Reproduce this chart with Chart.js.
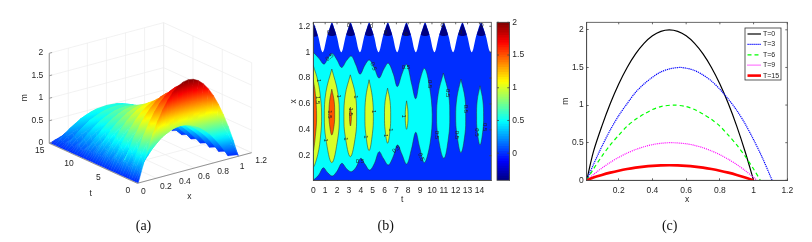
<!DOCTYPE html>
<html><head><meta charset="utf-8">
<script src="https://cdn.jsdelivr.net/npm/chart.js@4/dist/chart.umd.min.js"></script>
<style>
html,body{margin:0;padding:0;background:#fff;width:812px;height:242px;overflow:hidden}
canvas{position:absolute;top:0;filter:blur(.4px)}
</style></head><body>
<canvas id="pa" width="287" height="242" style="left:0;width:287px;height:242px"></canvas>
<canvas id="pb" width="265" height="242" style="left:280px;width:265px;height:242px"></canvas>
<canvas id="pbar" width="60" height="242" style="left:480px;width:60px;height:242px"></canvas>
<canvas id="pc" width="260" height="242" style="left:552px;width:260px;height:242px"></canvas>
<script>
// ---------- panel (a): surface m(t,x) ----------
const tRows=[0,.39,.79,1.18,1.57,1.96,2.36,2.75,3.14,3.53,3.93,4.32,4.71,5.11,5.5,5.89,6.28,6.68,7.07,7.46,7.85,8.25,8.64,9.03,9.42,9.82,10.21,10.6,10.99,11.39,11.78,12.17,12.57,12.96,13.35,13.74,14.14,14.53,14.92,15];
const xEnd=[1.06,1.08,1,1.05,1.09,1.05,1,1.05,1.09,1.05,1,1.05,1.09,1.05,1,1.05,1.09,1.05,1,1.05,1.09,1.05,1,1.05,1.09,1.05,1,1.05,1.09,1.05,1,1.05,1.09,1.05,1,1.05,1.09,1.05,1,1];
const uCols=[0,.05,.1,.15,.2,.25,.3,.35,.4,.45,.5,.55,.6,.65,.7,.75,.8,.85,.9,.95,1];
const mGrid=[
[0,.38,.72,1.02,1.28,1.5,1.68,1.82,1.92,1.98,2,1.98,1.92,1.82,1.68,1.5,1.28,1.02,.72,.38,0],
[0,.28,.53,.75,.94,1.1,1.23,1.34,1.41,1.46,1.47,1.46,1.41,1.34,1.23,1.1,.94,.75,.53,.28,0],
[0,.18,.34,.48,.61,.71,.8,.86,.91,.94,.95,.94,.91,.86,.8,.71,.61,.48,.34,.18,0],
[0,.26,.49,.69,.87,1.02,1.14,1.24,1.31,1.35,1.36,1.35,1.31,1.24,1.14,1.02,.87,.69,.49,.26,0],
[0,.34,.64,.91,1.14,1.34,1.5,1.62,1.71,1.76,1.78,1.76,1.71,1.62,1.5,1.34,1.14,.91,.64,.34,0],
[0,.25,.48,.68,.85,1,1.12,1.21,1.28,1.32,1.33,1.32,1.28,1.21,1.12,1,.85,.68,.48,.25,0],
[0,.17,.32,.45,.56,.66,.74,.8,.84,.87,.88,.87,.84,.8,.74,.66,.56,.45,.32,.17,0],
[0,.23,.44,.62,.77,.91,1.02,1.1,1.16,1.2,1.21,1.2,1.16,1.1,1.02,.91,.77,.62,.44,.23,0],
[0,.29,.56,.79,.99,1.16,1.3,1.41,1.49,1.53,1.55,1.53,1.49,1.41,1.3,1.16,.99,.79,.56,.29,0],
[0,.22,.42,.6,.76,.89,.99,1.07,1.13,1.17,1.18,1.17,1.13,1.07,.99,.89,.76,.6,.42,.22,0],
[0,.16,.3,.42,.52,.62,.69,.75,.79,.81,.82,.81,.79,.75,.69,.62,.52,.42,.3,.16,0],
[0,.2,.39,.55,.68,.8,.9,.97,1.03,1.06,1.07,1.06,1.03,.97,.9,.8,.68,.55,.39,.2,0],
[0,.25,.48,.67,.84,.99,1.11,1.2,1.27,1.31,1.32,1.31,1.27,1.2,1.11,.99,.84,.67,.48,.25,0],
[0,.2,.37,.53,.67,.78,.87,.95,1,1.03,1.04,1.03,1,.95,.87,.78,.67,.53,.37,.2,0],
[0,.14,.27,.39,.49,.57,.64,.69,.73,.75,.76,.75,.73,.69,.64,.57,.49,.39,.27,.14,0],
[0,.18,.34,.48,.61,.71,.8,.86,.91,.94,.95,.94,.91,.86,.8,.71,.61,.48,.34,.18,0],
[0,.22,.41,.58,.73,.86,.96,1.04,1.09,1.13,1.14,1.13,1.09,1.04,.96,.86,.73,.58,.41,.22,0],
[0,.17,.33,.47,.59,.69,.77,.84,.88,.91,.92,.91,.88,.84,.77,.69,.59,.47,.33,.17,0],
[0,.13,.25,.36,.45,.53,.59,.64,.67,.69,.7,.69,.67,.64,.59,.53,.45,.36,.25,.13,0],
[0,.16,.3,.43,.54,.63,.71,.76,.81,.83,.84,.83,.81,.76,.71,.63,.54,.43,.3,.16,0],
[0,.19,.35,.5,.63,.74,.82,.89,.94,.97,.98,.97,.94,.89,.82,.74,.63,.5,.35,.19,0],
[0,.15,.28,.4,.51,.59,.66,.72,.76,.78,.79,.78,.76,.72,.66,.59,.51,.4,.28,.15,0],
[0,.11,.22,.31,.38,.45,.5,.55,.58,.59,.6,.59,.58,.55,.5,.45,.38,.31,.22,.11,0],
[0,.14,.26,.37,.46,.54,.6,.66,.69,.71,.72,.71,.69,.66,.6,.54,.46,.37,.26,.14,0],
[0,.16,.31,.43,.54,.64,.71,.77,.82,.84,.85,.84,.82,.77,.71,.64,.54,.43,.31,.16,0],
[0,.12,.23,.33,.42,.49,.55,.59,.62,.64,.65,.64,.62,.59,.55,.49,.42,.33,.23,.12,0],
[0,.09,.16,.23,.29,.34,.38,.41,.43,.45,.45,.45,.43,.41,.38,.34,.29,.23,.16,.09,0],
[0,.11,.22,.31,.38,.45,.5,.55,.58,.59,.6,.59,.58,.55,.5,.45,.38,.31,.22,.11,0],
[0,.14,.27,.38,.47,.56,.62,.67,.71,.73,.74,.73,.71,.67,.62,.56,.47,.38,.27,.14,0],
[0,.11,.2,.29,.36,.42,.47,.51,.54,.55,.56,.55,.54,.51,.47,.42,.36,.29,.2,.11,0],
[0,.07,.14,.19,.24,.29,.32,.35,.36,.38,.38,.38,.36,.35,.32,.29,.24,.19,.14,.07,0],
[0,.1,.19,.27,.33,.39,.44,.47,.5,.51,.52,.51,.5,.47,.44,.39,.33,.27,.19,.1,0],
[0,.13,.24,.34,.42,.5,.55,.6,.63,.65,.66,.65,.63,.6,.55,.5,.42,.34,.24,.13,0],
[0,.09,.17,.24,.31,.36,.4,.44,.46,.48,.48,.48,.46,.44,.4,.36,.31,.24,.17,.09,0],
[0,.06,.11,.15,.19,.23,.25,.27,.29,.3,.3,.3,.29,.27,.25,.23,.19,.15,.11,.06,0],
[0,.08,.16,.22,.28,.33,.37,.4,.42,.44,.44,.44,.42,.4,.37,.33,.28,.22,.16,.08,0],
[0,.11,.21,.3,.37,.44,.49,.53,.56,.57,.58,.57,.56,.53,.49,.44,.37,.3,.21,.11,0],
[0,.07,.14,.2,.25,.29,.33,.35,.37,.39,.39,.39,.37,.35,.33,.29,.25,.2,.14,.07,0],
[0,.04,.07,.1,.13,.15,.17,.18,.19,.2,.2,.2,.19,.18,.17,.15,.13,.1,.07,.04,0],
[0,.04,.07,.1,.13,.15,.17,.18,.19,.2,.2,.2,.19,.18,.17,.15,.13,.1,.07,.04,0]];
const tTicks3d=[0,5,10,15];
const xTicks3d=[0,.2,.4,.6,.8,1,1.2];
const mTicks3d=[0,.5,1,1.5,2];

// ---------- panel (b): filled contour regions, [t,x] ----------
const blueRegion=[[0,.01],[0,1.23],[.22,1.18],[.45,1.11],[.65,1.025],[.785,1],[.92,1.025],[1.12,1.11],[1.35,1.18],[1.57,1.23],[1.79,1.18],[2.02,1.11],[2.22,1.025],[2.36,1],[2.49,1.025],[2.69,1.11],[2.92,1.18],[3.14,1.23],[3.36,1.18],[3.59,1.11],[3.79,1.025],[3.93,1],[4.06,1.025],[4.26,1.11],[4.49,1.18],[4.71,1.23],[4.93,1.18],[5.16,1.11],[5.36,1.025],[5.5,1],[5.63,1.025],[5.83,1.11],[6.06,1.18],[6.28,1.23],[6.5,1.18],[6.73,1.11],[6.93,1.025],[7.07,1],[7.2,1.025],[7.4,1.11],[7.63,1.18],[7.85,1.23],[8.07,1.18],[8.3,1.11],[8.5,1.025],[8.64,1],[8.77,1.025],[8.97,1.11],[9.2,1.18],[9.42,1.23],[9.64,1.18],[9.87,1.11],[10.07,1.025],[10.21,1],[10.34,1.025],[10.54,1.11],[10.77,1.18],[10.99,1.23],[11.21,1.18],[11.44,1.11],[11.64,1.025],[11.78,1],[11.91,1.025],[12.11,1.11],[12.34,1.18],[12.57,1.23],[12.79,1.18],[13.02,1.11],[13.22,1.025],[13.35,1],[13.48,1.025],[13.68,1.11],[13.91,1.18],[14.14,1.23],[14.36,1.18],[14.59,1.11],[14.79,1.025],[14.92,1],[15,1.01],[15,.01]];
const navyLobes=[
[[0,1.23],[.2,1.18],[.36,1.128],[.2,1.122],[0,1.12]],
[[1.57,1.23],[1.77,1.18],[1.93,1.135],[1.77,1.128],[1.57,1.125],[1.37,1.128],[1.21,1.135],[1.37,1.18]],
[[3.14,1.23],[3.34,1.18],[3.5,1.135],[3.34,1.128],[3.14,1.125],[2.94,1.128],[2.78,1.135],[2.94,1.18]],
[[4.71,1.23],[4.91,1.18],[5.07,1.135],[4.91,1.128],[4.71,1.125],[4.51,1.128],[4.35,1.135],[4.51,1.18]],
[[6.28,1.23],[6.48,1.18],[6.64,1.135],[6.48,1.128],[6.28,1.125],[6.08,1.128],[5.92,1.135],[6.08,1.18]],
[[7.85,1.23],[8.05,1.18],[8.21,1.135],[8.05,1.128],[7.85,1.125],[7.65,1.128],[7.49,1.135],[7.65,1.18]],
[[9.42,1.23],[9.62,1.18],[9.78,1.135],[9.62,1.128],[9.42,1.125],[9.22,1.128],[9.06,1.135],[9.22,1.18]],
[[10.99,1.23],[11.19,1.18],[11.35,1.135],[11.19,1.128],[10.99,1.125],[10.79,1.128],[10.63,1.135],[10.79,1.18]],
[[12.57,1.23],[12.77,1.18],[12.93,1.135],[12.77,1.128],[12.57,1.125],[12.37,1.128],[12.21,1.135],[12.37,1.18]],
[[14.14,1.23],[14.34,1.18],[14.5,1.135],[14.34,1.128],[14.14,1.125],[13.94,1.128],[13.78,1.135],[13.94,1.18]]];
const cyanRegion=[[0,1],[.45,.955],[.9,.908],[1.25,.955],[1.6,.99],[2,.94],[2.39,.882],[2.8,.935],[3.2,.97],[3.6,.9],[3.94,.83],[4.35,.9],[4.72,.94],[5.15,.875],[5.54,.8],[5.95,.87],[6.32,.915],[6.75,.83],[7.08,.734],[7.5,.84],[7.87,.905],[8.3,.75],[8.63,.64],[8.97,.78],[9.38,.875],[9.8,.73],[10.02,.52],[9.85,.3],[9.36,.146],[8.95,.27],[8.63,.381],[8.27,.25],[7.87,.135],[7.45,.215],[7.1,.283],[6.72,.19],[6.32,.128],[5.9,.18],[5.54,.231],[5.15,.14],[4.75,.089],[4.35,.135],[4.0,.18],[3.6,.11],[3.2,.076],[2.8,.1],[2.4,.141],[2,.08],[1.6,.043],[1.2,.07],[.84,.107],[.45,.05],[0,.012]];
const cyanLobes=[
[[10.96,.839],[11.4,.675],[11.5,.5],[11.4,.345],[11,.18],[10.52,.345],[10.39,.5],[10.52,.675]],
[[12.44,.792],[12.78,.647],[12.84,.5],[12.78,.367],[12.44,.223],[12.1,.367],[12,.5],[12.1,.647]],
[[14.05,.74],[14.29,.625],[14.35,.5],[14.29,.395],[14.05,.283],[13.81,.395],[13.76,.5],[13.81,.625]]];
const yellowLobes=[
[[0,.897],[.38,.78],[.62,.64],[.7,.5],[.62,.36],[.38,.21],[0,.12]],
[[1.56,.87],[2.06,.69],[2.19,.5],[2.06,.33],[1.56,.146],[1.06,.33],[.93,.5],[1.06,.69]],
[[3.12,.825],[3.55,.67],[3.65,.5],[3.55,.35],[3.12,.192],[2.69,.35],[2.58,.5],[2.69,.67]],
[[4.7,.787],[4.98,.65],[5.06,.5],[4.98,.37],[4.7,.239],[4.42,.37],[4.35,.5],[4.42,.65]],
[[6.26,.722],[6.47,.62],[6.52,.5],[6.47,.4],[6.26,.296],[6.05,.4],[6,.5],[6.05,.62]],
[[7.86,.624],[7.96,.56],[7.98,.5],[7.96,.45],[7.86,.404],[7.77,.45],[7.75,.5],[7.77,.56]]];
const orangeLobes=[
[[0,.786],[.17,.68],[.28,.5],[.17,.35],[0,.244]],
[[1.56,.714],[1.76,.62],[1.8,.52],[1.76,.44],[1.56,.36],[1.37,.44],[1.32,.52],[1.37,.62]],
[[3.13,.575],[3.21,.5],[3.13,.43],[3.05,.5]]];
const contourLabels=[[1.38,.96,'0.5',-40],[5.06,.89,'0.5',70],[7.8,.88,'0.5',0],[9.8,.753,'0.5',90],[11.32,.683,'0.5',90],[12.8,.562,'0.5',90],[14.4,.42,'0.5',90],[13.76,.38,'0.5',90],[12.08,.36,'0.5',90],[10.4,.36,'0.5',90],[9.07,.19,'0.5',70],[7,.25,'0.5',-40],[3.93,.153,'0.5',0],[1.4,.52,'1.5',90],[3.12,.54,'1.5',90],[.34,.63,'1.5',90],[.45,.78,'1',90],[2.1,.66,'1',90],[3.54,.655,'1',90],[5.06,.54,'1',90],[7.64,.505,'1',90],[6.5,.4,'1',90],[6.1,.355,'1',90],[4.4,.345,'1',90],[2.72,.33,'1',90],[1.04,.32,'1',90],[1.3,1.156,'0',0],[2.95,1.205,'0',0],[4.9,1.2,'0',0],[6.07,1.156,'0',0],[7.8,1.14,'0',0],[10.87,1.21,'0',0],[12.4,1.156,'0',0],[14.2,1.21,'0',0]];
const tTicksB=[0,1,2,3,4,5,6,7,8,9,10,11,12,13,14];
const xTicksB=[.2,.4,.6,.8,1,1.2];
const barTicks=[0,.5,1,1.5,2];

// ---------- panel (c): profiles m(x) ----------
const xT0=[.01,.05,.1,.15,.2,.25,.3,.35,.4,.45,.5,.55,.6,.65,.7,.75,.8,.85,.9,.95,1];
const mT0=[0,.38,.72,1.02,1.28,1.5,1.68,1.82,1.92,1.98,2,1.98,1.92,1.82,1.68,1.5,1.28,1.02,.72,.38,0];
const xT3=[.01,.05,.1,.15,.2,.25,.3,.35,.4,.45,.5,.56,.6,.65,.7,.75,.8,.85,.9,.95,1,1.05,1.11];
const mT3=[0,.21,.45,.67,.86,1.02,1.17,1.28,1.37,1.44,1.48,1.5,1.49,1.46,1.4,1.32,1.21,1.08,.93,.75,.54,.31,0];
const xT6=[.01,.05,.1,.15,.2,.25,.3,.35,.4,.45,.525,.6,.65,.7,.75,.8,.85,.9,.95,1,1.04];
const mT6=[0,.15,.32,.47,.6,.72,.81,.88,.94,.98,1,.98,.94,.88,.81,.72,.6,.47,.32,.15,0];
const xT9=[.01,.05,.1,.15,.2,.25,.3,.35,.4,.45,.515,.6,.65,.7,.75,.8,.85,.9,.95,1,1.02];
const mT9=[0,.076,.162,.239,.305,.362,.409,.446,.474,.492,.5,.486,.464,.433,.391,.341,.28,.21,.129,.039,0];
const xT15=[.01,.05,.1,.15,.2,.25,.3,.35,.4,.45,.5,.55,.6,.65,.7,.75,.8,.85,.9,.95,1];
const mT15=[0,.038,.072,.102,.128,.15,.168,.182,.192,.198,.2,.198,.192,.182,.168,.15,.128,.102,.072,.038,0];
const xTicksC=[.2,.4,.6,.8,1,1.2];
const mTicksC=[0,.5,1,1.5,2];

// ---------- helpers ----------
const SANS='"Liberation Sans",Arial,sans-serif', SERIF='"Liberation Serif",serif';
const TXT='#262626', AX='#444';
const clamp=v=>Math.max(0,Math.min(1,v));
function jet(v){const f=(v+.41)/2.41;
  return 'rgb('+Math.round(255*clamp(Math.min(4*f-1.5,4.5-4*f)))+','+Math.round(255*clamp(Math.min(4*f-.5,3.5-4*f)))+','+Math.round(255*clamp(Math.min(4*f+.5,2.5-4*f)))+')';}
function project(t,x,m){return {x:137.3+x*95.3-t*5.87,y:183.3-x*25.5-t*2.67-m*45};}
const caption=s=>({display:true,text:s,position:'bottom',color:'#111',font:{family:SERIF,size:14,weight:'normal'},padding:{top:0,bottom:7.6}});
const fixH=h=>s=>{s.height=h}, fixW=w=>s=>{s.width=w};
const setTicks=a=>s=>{s.ticks=a.map(v=>({value:v}))};
function axisOpt(pos,min,max,ticks,title,size,tp){
  const vert=pos==='left'||pos==='right';
  return {type:'linear',position:pos,min,max,afterBuildTicks:setTicks(ticks),
    afterFit:vert?fixW(size):fixH(size),
    border:{display:true,color:AX,width:.8},
    grid:{drawOnChartArea:false,tickLength:-2,tickColor:AX,lineWidth:.8},
    ticks:{autoSkip:false,maxRotation:0,padding:vert?5:7,color:TXT,font:{family:SANS,size:8.5},callback:v=>String(v)},
    title:title?{display:true,text:title,color:TXT,font:{family:SANS,size:8.5},padding:vert?{top:tp,bottom:0}:{top:0,bottom:tp}}:{display:false}};
}
const framePlugin={id:'frame',afterDatasetsDraw(c){const a=c.chartArea,g=c.ctx;g.save();g.strokeStyle=AX;g.lineWidth=.8;
  g.strokeRect(a.left,a.top,a.right-a.left,a.bottom-a.top);g.beginPath();
  if(c.scales.x&&c.scales.x.options.display!==false)c.scales.x.ticks.forEach(k=>{const p=c.scales.x.getPixelForValue(k.value);g.moveTo(p,a.top);g.lineTo(p,a.top+2);});
  if(c.scales.y)c.scales.y.ticks.forEach(k=>{const p=c.scales.y.getPixelForValue(k.value);g.moveTo(a.right,p);g.lineTo(a.right-2,p);if(c.canvas.id==='pbar'){g.moveTo(a.left,p);g.lineTo(a.left+2,p);}});
  g.stroke();g.restore();}};
const base=(extra)=>Object.assign({responsive:false,animation:false,events:[],devicePixelRatio:1},extra);

// ---------- panel (a) ----------
function quadPaint(c4){return ctx=>{
  const sx=ctx.chart.scales.x,sy=ctx.chart.scales.y,g2=ctx.chart.ctx;
  const pts=c4.map(p=>({X:sx.getPixelForValue(p.x),Y:sy.getPixelForValue(p.y),m:p.m}));
  const s=pts.slice().sort((a,b)=>a.m-b.m),lo=s[0],hi=s[3];
  if(hi.m-lo.m<.005||!pts.every(p=>isFinite(p.X)&&isFinite(p.Y)))return jet(lo.m);
  const mid=s[1].m-lo.m>(hi.m-lo.m)/2?s[1]:s[2];
  let ex=hi.X-lo.X,ey=hi.Y-lo.Y;
  const ux=hi.X-lo.X,uy=hi.Y-lo.Y,vx=mid.X-lo.X,vy=mid.Y-lo.Y,det=ux*vy-uy*vx;
  if(Math.abs(det)>.5){const du=hi.m-lo.m,dv=mid.m-lo.m;
    const a=(du*vy-dv*uy)/det,b=(dv*ux-du*vx)/det,n=a*a+b*b;
    if(n>1e-6){ex=a/n*du;ey=b/n*du;}}
  const gr=g2.createLinearGradient(lo.X,lo.Y,lo.X+ex,lo.Y+ey);
  for(let k=0;k<=4;k++)gr.addColorStop(k/4,jet(lo.m+(hi.m-lo.m)*k/4));
  return gr;};}
const seg=(pts,color,w)=>({data:pts,showLine:true,fill:false,borderColor:color,borderWidth:w,pointRadius:0,tension:0,clip:false});
const dsA=[];
for(let i=0;i<tRows.length-1;i++)for(let j=0;j<uCols.length-1;j++){
  const corner=(r,q)=>{const p=project(tRows[r],.01+uCols[q]*(xEnd[r]-.01),mGrid[r][q]);return {x:p.x,y:p.y,m:mGrid[r][q]};};
  const c4=[corner(i,j),corner(i,j+1),corner(i+1,j+1),corner(i+1,j)];
  const paint=quadPaint(c4);
  dsA.push({data:c4.concat([c4[0]]),showLine:true,fill:'shape',backgroundColor:paint,borderColor:paint,borderWidth:.5,pointRadius:0,tension:0,clip:false});
}
const tEnd=tTicks3d[tTicks3d.length-1],xE=xTicks3d[xTicks3d.length-1],mE=mTicks3d[mTicks3d.length-1];
const axisA=[seg([project(0,0,0),project(tEnd,0,0)],'#888',.9),seg([project(0,0,0),project(0,xE,0)],'#888',.9),seg([project(tEnd,0,0),project(tEnd,0,mE)],'#888',.9)];
mTicks3d.forEach(m=>axisA.push(seg([project(tEnd,0,m),project(tEnd,.03,m)],'#888',.8)));
const gridA=[];const GC='#ececec';
xTicks3d.forEach(x=>{gridA.push(seg([project(0,x,0),project(tEnd,x,0)],GC,.7));gridA.push(seg([project(tEnd,x,0),project(tEnd,x,mE)],GC,.7));});
tTicks3d.forEach(t=>{gridA.push(seg([project(t,0,0),project(t,xE,0)],GC,.7));gridA.push(seg([project(t,xE,0),project(t,xE,mE)],GC,.7));});
mTicks3d.forEach(m=>{gridA.push(seg([project(tEnd,0,m),project(tEnd,xE,m)],GC,.7));gridA.push(seg([project(tEnd,xE,m),project(0,xE,m)],GC,.7));});
const textA={id:'textA',afterDraw(c){const g=c.ctx,sx=c.scales.x,sy=c.scales.y;g.save();g.fillStyle=TXT;g.font='8.5px '+SANS;g.textBaseline='middle';
  const put=(p,dx,dy,s,al)=>{g.textAlign=al;g.fillText(s,sx.getPixelForValue(p.x)+dx,sy.getPixelForValue(p.y)+dy);};
  mTicks3d.forEach(m=>put(project(tEnd,0,m),-6,-.5,String(m),'right'));
  tTicks3d.forEach(t=>put(project(t,0,0),-9.5,7.5,String(t),'center'));
  xTicks3d.forEach(x=>put(project(0,x,0),x===0?6:9.5,8.4,String(x),'center'));
  g.textAlign='center';
  g.fillText('t',90.7,193.3);g.fillText('x',189.3,196.7);
  g.translate(25,97.7);g.rotate(-Math.PI/2);g.fillText('m',0,0);g.restore();}};
new Chart(document.getElementById('pa'),{type:'scatter',data:{datasets:axisA.concat(dsA,gridA)},plugins:[textA],
  options:base({layout:{padding:0},plugins:{legend:{display:false},tooltip:{enabled:false},title:caption('(a)')},
    scales:{x:{type:'linear',display:false,min:0,max:287},y:{type:'linear',display:false,reverse:true,min:0,max:217.6}}})});

// ---------- panel (b) ----------
const BLUE=jet(0),CYAN=jet(.5),YEL=jet(1),ORA=jet(1.5),NAVY=jet(-.41),LINE='#2a2a2a';
const shape=(pts,color,bw,tens,close)=>{const d=(close?pts.concat([pts[0]]):pts).map(p=>({x:p[0],y:p[1]}));
  return {data:d,showLine:true,fill:'shape',backgroundColor:color,borderColor:bw?LINE:color,borderWidth:bw,pointRadius:0,tension:tens};};
const dsB=[].concat(
  orangeLobes.map(l=>shape(l,ORA,.5,.4,true)),
  yellowLobes.map(l=>shape(l,YEL,.5,.4,true)),
  cyanLobes.map(l=>shape(l,CYAN,.5,.4,true)),
  [shape(cyanRegion,CYAN,.5,.35,true)],
  navyLobes.map(l=>shape(l,NAVY,0,.2,true)),
  [shape(blueRegion,BLUE,0,.3,true)]);
const textB={id:'textB',afterDatasetsDraw(c){const g=c.ctx,sx=c.scales.x,sy=c.scales.y;g.save();g.fillStyle='#222';g.font='6px '+SANS;g.textAlign='center';g.textBaseline='middle';
  contourLabels.forEach(l=>{g.save();g.translate(sx.getPixelForValue(l[0]),sy.getPixelForValue(l[1]));g.rotate(l[3]*Math.PI/180);g.fillText(l[2],0,0);g.restore();});g.restore();}};
new Chart(document.getElementById('pb'),{type:'scatter',data:{datasets:dsB},plugins:[textB,framePlugin],
  options:base({layout:{padding:{top:22.3,left:0,right:53.7}},plugins:{legend:{display:false},tooltip:{enabled:false},title:caption('(b)')},
    scales:{x:axisOpt('bottom',0,15,tTicksB,'t',37.3,12.8),y:axisOpt('left',.01,1.231,xTicksB,'x',33.3,8.2)}})});

// colour bar
const barMin=-.414,barMax=2,barSteps=64,barDs=[];
for(let k=0;k<barSteps;k++){const lo=barMin+(barMax-barMin)*k/barSteps,hi=barMin+(barMax-barMin)*(k+1.2)/barSteps;
  barDs.push({data:[[lo,Math.min(hi,barMax)]],backgroundColor:jet(lo+(barMax-barMin)/barSteps/2),grouped:false,barPercentage:1,categoryPercentage:1,borderWidth:0});}
new Chart(document.getElementById('pbar'),{type:'bar',data:{labels:['m'],datasets:barDs.reverse()},plugins:[framePlugin],
  options:base({layout:{padding:{top:22.3,bottom:61.7,left:17,right:0}},plugins:{legend:{display:false},tooltip:{enabled:false},title:{display:false}},
    scales:{x:{display:false},y:axisOpt('right',barMin,barMax,barTicks,null,30.7,0)}})});

// ---------- panel (c) ----------
const profile=(label,xs,ms,color,w,dash,order)=>({label,data:xs.map((x,i)=>({x,y:ms[i]})),showLine:true,fill:false,borderColor:color,borderWidth:w,borderDash:dash,pointRadius:0,tension:.3,order});
const dsC=[profile('T=0',xT0,mT0,'#000',1.2,[],4),profile('T=3',xT3,mT3,'#0000ff',1.2,[1.2,.8],3),profile('T=6',xT6,mT6,'#00ff00',1.2,[4,3],2),profile('T=9',xT9,mT9,'#ff00ff',1.2,[1,1],1),profile('T=15',xT15,mT15,'#ff0000',2.6,[],0)];
const legendC={id:'legendC',afterDraw(c){const g=c.ctx,L=193,T=28,W=36,H=52;g.save();g.fillStyle='#fff';g.fillRect(L,T,W,H);g.strokeStyle='#333';g.lineWidth=.8;g.strokeRect(L,T,W,H);
  g.font='7px '+SANS;g.textBaseline='middle';g.textAlign='left';
  c.data.datasets.forEach((d,i)=>{const y=T+6+i*10.4;g.beginPath();g.strokeStyle=d.borderColor;g.lineWidth=d.borderWidth;g.setLineDash(d.borderDash);g.moveTo(L+2.5,y);g.lineTo(L+16,y);g.stroke();g.setLineDash([]);g.fillStyle='#222';g.fillText(d.label,L+18,y);});g.restore();}};
new Chart(document.getElementById('pc'),{type:'scatter',data:{datasets:dsC},plugins:[framePlugin,legendC],
  options:base({layout:{padding:{top:22.3,left:0,right:24.7}},plugins:{legend:{display:false},tooltip:{enabled:false},title:caption('(c)')},
    scales:{x:axisOpt('bottom',.01,1.2,xTicksC,'x',37.3,12.8),y:axisOpt('left',0,2.1,mTicksC,'m',34.7,8.9)}})});
</script></body></html>
